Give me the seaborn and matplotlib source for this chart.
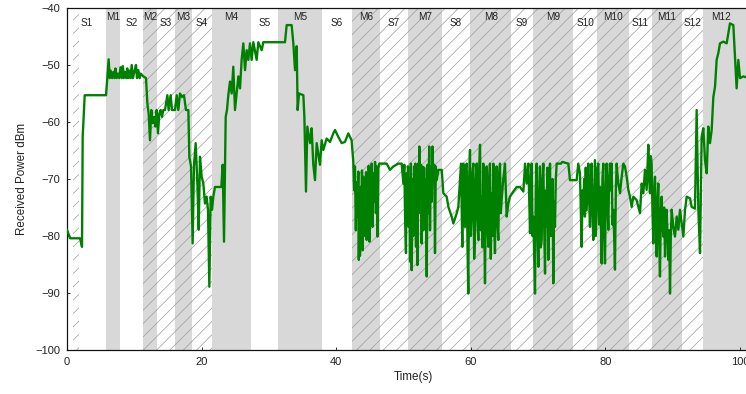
import matplotlib
matplotlib.use("Agg")
import matplotlib.pyplot as plt
import matplotlib.transforms as mtransforms
import seaborn as sns
import pandas as pd

# ---------------- data ----------------
# phase boundaries (s) and labels
phase_edges = [0, 5.8, 7.9, 11.3, 13.4, 16.0, 18.6, 21.5, 27.3, 31.4, 37.9, 42.3,
               46.5, 50.7, 55.7, 59.9, 66.0, 69.2, 75.2, 78.8, 83.5, 86.9, 91.4, 94.5, 100.0]
phase_labels = ["S1", "M1", "S2", "M2", "S3", "M3", "S4", "M4", "S5", "M5", "S6", "M6",
                "S7", "M7", "S8", "M8", "S9", "M9", "S10", "M10", "S11", "M11", "S12", "M12"]
hatched_spans = [(0.9, 1.8), (11.3, 21.5), (42.3, 94.5)]

# received power trace (time s, dBm)
trace_a = [(0.0, -78.9), (0.45, -80.4), (1.93, -80.4), (2.23, -81.9), (2.33, -62.6), (2.63, -55.3),
           (5.8, -55.3), (6.0, -52.0), (6.19, -49.0), (6.35, -52.3), (6.5, -51.0), (6.7, -52.3),
           (6.89, -51.2), (7.05, -52.3), (7.2, -50.6), (7.38, -52.3), (7.55, -51.5), (7.75, -52.3),
           (7.95, -50.4), (8.12, -52.3), (8.3, -50.2), (8.45, -52.3), (8.62, -51.2), (8.8, -52.3),
           (8.95, -50.6), (9.11, -52.3), (9.3, -51.0), (9.45, -52.3), (9.61, -50.0), (9.8, -52.3),
           (10.0, -51.2), (10.25, -50.0), (10.4, -52.3), (10.6, -50.9), (10.8, -52.3), (10.95, -51.5),
           (11.34, -52.0), (11.74, -52.3), (11.94, -56.7), (12.13, -58.5), (12.33, -63.2), (12.53, -57.9),
           (12.73, -60.2), (12.93, -59.1), (13.13, -60.8), (13.32, -57.9), (13.52, -62.0), (13.72, -58.5),
           (13.92, -57.9), (14.12, -59.1), (14.31, -57.9), (14.56, -57.9), (14.91, -55.3), (15.1, -57.9),
           (15.4, -55.3), (15.6, -57.9), (16.05, -57.9), (16.3, -55.3), (16.54, -57.9), (16.79, -55.0),
           (17.09, -55.6), (17.38, -55.3), (17.68, -57.9), (18.03, -57.9)]
trace_b = [(18.18, -66.1), (18.43, -67.8), (18.67, -81.3), (18.87, -67.5), (19.12, -63.7), (19.37, -70.8),
           (19.57, -78.9), (19.76, -66.1), (20.01, -69.6), (20.26, -70.8), (20.5, -74.3), (20.75, -73.1),
           (20.95, -75.4), (21.15, -88.9), (21.35, -73.1), (21.55, -75.4), (21.74, -73.1), (21.99, -71.4),
           (22.93, -71.4), (23.13, -67.5), (23.33, -81.0), (23.58, -59.1), (23.77, -57.9), (23.97, -55.3),
           (24.22, -52.9), (24.47, -55.0), (24.71, -50.3), (24.96, -57.9), (25.21, -55.0), (25.46, -52.0),
           (25.71, -54.1), (25.95, -49.1), (26.2, -46.2), (26.45, -50.9), (26.7, -47.4), (26.94, -49.1),
           (27.19, -46.2), (27.44, -49.1), (27.69, -46.0), (28.18, -49.1), (28.43, -46.0), (28.93, -47.4),
           (29.17, -46.0), (32.39, -46.0), (32.64, -43.0), (33.38, -43.0), (33.63, -46.2), (33.88, -50.9),
           (34.13, -46.7), (34.27, -57.9), (34.47, -55.0), (35.12, -55.3), (35.27, -59.1), (35.51, -72.2),
           (35.71, -60.8), (36.11, -63.7), (36.35, -61.1), (36.6, -67.5), (36.85, -70.2), (37.1, -63.7),
           (37.59, -67.5), (37.84, -63.2), (38.09, -64.9), (38.58, -62.9), (39.08, -63.5)]
trace_c = [(39.57, -62.0), (39.82, -61.4), (40.31, -62.6), (40.81, -63.7), (41.3, -63.5), (41.8, -62.0),
           (42.29, -63.2), (42.54, -67.0), (42.66, -72.0), (42.79, -67.8), (42.92, -79.0), (43.04, -70.6),
           (43.16, -76.6), (43.29, -68.7), (43.36, -84.2), (43.44, -72.0), (43.53, -83.5), (43.63, -71.4),
           (43.73, -78.0), (43.83, -68.5), (43.93, -82.5), (44.03, -69.6), (44.13, -80.0), (44.23, -72.2),
           (44.33, -77.5), (44.43, -68.8), (44.53, -80.7), (44.63, -70.0), (44.73, -79.0), (44.83, -67.7),
           (44.93, -81.0), (45.02, -72.0), (45.15, -75.0), (45.27, -67.3), (45.4, -78.4), (45.52, -69.0),
           (45.65, -74.0), (45.77, -67.0), (45.9, -76.0), (46.01, -67.8), (46.13, -80.1), (46.26, -68.0),
           (46.41, -67.3), (47.01, -67.3), (47.5, -67.3), (48.0, -68.4), (48.49, -67.8), (49.23, -67.3),
           (49.73, -67.3), (49.98, -70.8), (50.12, -67.5), (50.25, -78.0), (50.37, -83.0), (50.47, -69.0),
           (50.57, -77.0), (50.67, -67.8), (50.77, -78.4), (50.87, -70.0), (50.97, -84.5), (51.1, -67.3),
           (51.22, -86.0), (51.35, -70.0), (51.47, -80.0), (51.57, -67.8), (51.66, -75.0), (51.76, -67.3),
           (51.86, -81.9), (51.96, -69.0), (52.06, -85.1), (52.16, -67.3), (52.26, -76.0), (52.36, -64.3),
           (52.45, -72.0), (52.58, -67.5), (52.7, -81.3), (52.83, -67.8), (52.95, -79.0), (53.07, -68.0),
           (53.2, -78.4), (53.32, -70.0), (53.45, -87.1), (53.57, -67.5), (53.69, -76.0), (53.82, -64.3),
           (53.94, -79.0), (54.06, -67.8), (54.19, -74.0), (54.31, -64.3), (54.44, -70.0), (54.56, -67.5),
           (54.68, -83.0), (54.8, -67.8), (54.93, -70.2), (55.18, -68.4), (55.43, -68.4), (55.68, -68.4),
           (55.92, -72.5), (56.42, -73.1), (56.67, -74.9), (57.16, -76.6), (57.41, -77.8), (57.91, -76.0),
           (58.15, -74.9)]
trace_d = [(58.54, -67.3), (58.64, -75.0), (58.74, -81.9), (58.82, -70.0), (58.89, -67.3), (59.02, -77.0),
           (59.14, -78.4), (59.26, -68.0), (59.39, -67.3), (59.51, -82.0), (59.63, -90.1), (59.75, -70.0),
           (59.88, -64.9), (60.0, -80.0), (60.13, -76.6), (60.25, -69.0), (60.38, -67.3), (60.5, -84.0),
           (60.62, -79.5), (60.75, -70.0), (60.87, -67.3), (61.0, -77.0), (61.12, -80.7), (61.25, -68.0),
           (61.37, -64.0), (61.49, -79.0), (61.61, -73.1), (61.74, -82.0), (61.86, -67.3), (61.98, -76.0),
           (62.11, -88.3), (62.23, -72.0), (62.36, -67.8), (62.48, -78.0), (62.6, -81.9), (62.72, -70.0),
           (62.85, -67.3), (62.97, -84.0), (63.1, -72.5), (63.22, -80.0), (63.35, -67.3), (63.47, -76.0),
           (63.59, -83.0), (63.71, -70.0), (63.84, -67.8), (63.96, -78.0), (64.09, -80.7), (64.21, -69.0),
           (64.34, -67.3), (64.46, -76.0), (64.58, -73.7), (64.83, -70.0), (65.08, -67.3), (65.2, -72.0),
           (65.33, -76.6), (65.58, -74.3), (65.82, -73.1), (66.32, -72.2), (66.82, -71.4), (67.31, -71.4),
           (67.81, -72.2), (68.06, -67.3), (68.3, -70.8), (68.55, -67.3), (68.68, -74.0), (68.8, -79.5),
           (68.92, -70.0), (69.05, -67.3), (69.17, -80.0), (69.29, -76.6), (69.42, -84.0), (69.54, -90.1),
           (69.66, -72.0), (69.79, -67.3), (69.91, -78.0), (70.04, -85.4), (70.16, -73.0), (70.28, -67.8),
           (70.4, -82.0), (70.53, -80.7), (70.65, -70.0), (70.78, -67.3), (70.9, -78.0), (71.03, -86.6),
           (71.15, -72.0), (71.27, -78.4), (71.4, -68.0), (71.52, -84.2), (71.64, -74.0), (71.77, -67.3),
           (71.89, -80.0), (72.02, -79.5), (72.14, -70.0), (72.26, -88.3), (72.38, -74.0), (72.51, -78.4),
           (72.63, -70.0), (72.76, -67.3), (73.4, -67.3), (73.6, -67.0), (74.49, -67.3), (74.74, -70.2),
           (75.73, -70.2), (75.97, -67.3), (76.22, -69.0), (76.47, -81.9), (76.6, -72.0), (76.72, -76.0),
           (76.84, -70.0), (76.96, -76.6), (77.08, -68.0), (77.21, -75.5), (77.46, -67.3), (77.59, -74.0),
           (77.71, -78.4), (77.83, -70.0), (77.95, -67.3), (78.08, -76.0), (78.2, -80.7)]
trace_e = [(78.45, -66.7), (78.57, -80.0), (78.7, -75.4), (78.82, -68.0), (78.95, -67.3), (79.07, -78.0),
           (79.2, -71.4), (79.32, -76.0), (79.44, -84.8), (79.56, -70.0), (79.69, -67.3), (79.81, -80.0),
           (79.94, -84.8), (80.06, -72.0), (80.19, -67.3), (80.31, -74.0), (80.43, -78.9), (80.55, -70.0),
           (80.68, -67.3), (80.8, -72.0), (80.93, -67.3), (81.05, -78.0), (81.18, -75.4), (81.3, -80.0),
           (81.42, -85.9), (81.55, -72.0), (81.67, -67.3), (81.92, -70.8), (82.17, -72.5), (82.42, -69.6),
           (82.66, -67.3), (82.91, -67.8), (83.16, -69.6), (83.41, -71.9), (83.65, -73.1), (83.9, -74.9),
           (84.15, -73.1), (84.64, -73.7), (85.14, -76.0), (85.39, -70.8), (85.64, -72.5), (85.88, -68.4),
           (86.13, -71.9), (86.38, -64.0), (86.5, -70.0), (86.63, -72.5), (86.75, -66.0), (86.87, -67.3),
           (87.0, -76.0), (87.12, -81.3), (87.25, -72.0), (87.37, -69.6), (87.5, -78.0), (87.62, -83.6),
           (87.74, -74.0), (87.86, -70.8), (87.98, -80.0), (88.11, -87.1), (88.23, -76.0), (88.36, -73.1),
           (88.48, -78.0), (88.61, -80.1), (88.73, -75.0), (88.86, -83.6), (88.98, -78.0), (89.1, -75.4),
           (89.23, -80.0), (89.35, -84.2), (89.47, -79.0), (89.6, -90.1), (89.72, -80.0), (89.85, -75.4),
           (90.09, -78.4), (90.34, -80.1), (90.59, -76.6), (90.84, -78.9), (91.08, -75.4), (91.33, -77.8),
           (91.58, -80.1), (91.83, -75.4), (92.08, -73.1), (92.57, -73.4), (92.82, -74.9), (93.31, -75.2),
           (93.56, -57.9), (93.81, -75.4), (94.06, -83.0), (94.3, -62.6), (94.55, -61.1), (94.8, -66.7),
           (95.05, -69.0), (95.29, -60.8), (95.54, -63.7), (95.79, -61.4), (96.04, -55.6), (96.29, -53.8),
           (96.53, -49.1), (96.78, -47.9), (97.03, -46.2), (97.52, -45.9), (98.02, -46.2), (98.51, -42.7),
           (99.01, -43.0), (99.5, -54.1), (99.75, -49.1), (100.0, -52.3), (100.5, -52.0), (101.3, -52.3)]

# ---------------- styling ----------------
DPI = 80
sns.set_theme(style="white")
plt.rcParams["font.family"] = ["Liberation Sans", "DejaVu Sans"]
plt.rcParams["hatch.linewidth"] = 0.6
plt.rcParams["hatch.color"] = "#999999"

W, H = 746, 394
fig = plt.figure(figsize=(W / DPI, H / DPI), dpi=DPI)
px_per_unit = (740 - 67) / 100.0
x_end = 103.0
ax_left, ax_right = 67, 67 + x_end * px_per_unit
ax_top, ax_bot = 8, 350
ax = fig.add_axes([ax_left / W, (H - ax_bot) / H, (ax_right - ax_left) / W, (ax_bot - ax_top) / H])

gray = "#d8d8d8"
# gray "M" phases
for i, lab in enumerate(phase_labels):
    a, b = phase_edges[i], phase_edges[i + 1]
    if lab == "M12":
        b = x_end
    if lab.startswith("M"):
        ax.axvspan(a, b, facecolor=gray, edgecolor="none", linewidth=0, zorder=0)
# hatched regions
for a, b in hatched_spans:
    ax.axvspan(a, b, facecolor="none", edgecolor="#999999", hatch="//", linewidth=0, zorder=0.5)

# trace
pts = trace_a + trace_b + trace_c + trace_d + trace_e
df = pd.DataFrame(pts, columns=["time", "power"])
sns.lineplot(data=df, x="time", y="power", ax=ax, color="#008000", linewidth=2.1,
             estimator=None, sort=False, zorder=3)

# phase labels
trans = mtransforms.blended_transform_factory(ax.transData, ax.transAxes)
for i, lab in enumerate(phase_labels):
    c = 0.5 * (phase_edges[i] + phase_edges[i + 1])
    yy = (ax_bot - 17) / (ax_bot - ax_top) if lab.startswith("M") else (ax_bot - 23.5) / (ax_bot - ax_top)
    ax.text(c, yy, lab, transform=trans, ha="center", va="center", fontsize=9, color="#222222", zorder=4)

ax.set_xlim(0, x_end)
ax.set_ylim(-100, -40)
ax.set_xticks([0, 20, 40, 60, 80, 100])
ax.set_yticks([-40, -50, -60, -70, -80, -90, -100])
ax.tick_params(axis="both", direction="in", length=3, width=0.8, labelsize=10, colors="#222222",
               left=True, bottom=True, pad=6)
ax.set_xlabel("Time(s)", fontsize=10.5, color="#222222", labelpad=4)
ax.set_ylabel("Received Power dBm", fontsize=10.5, color="#222222", labelpad=7)
for s in ax.spines.values():
    s.set_color("#111111")
    s.set_linewidth(1.1)
ax.grid(False)

fig.savefig("out.png", dpi=DPI)
